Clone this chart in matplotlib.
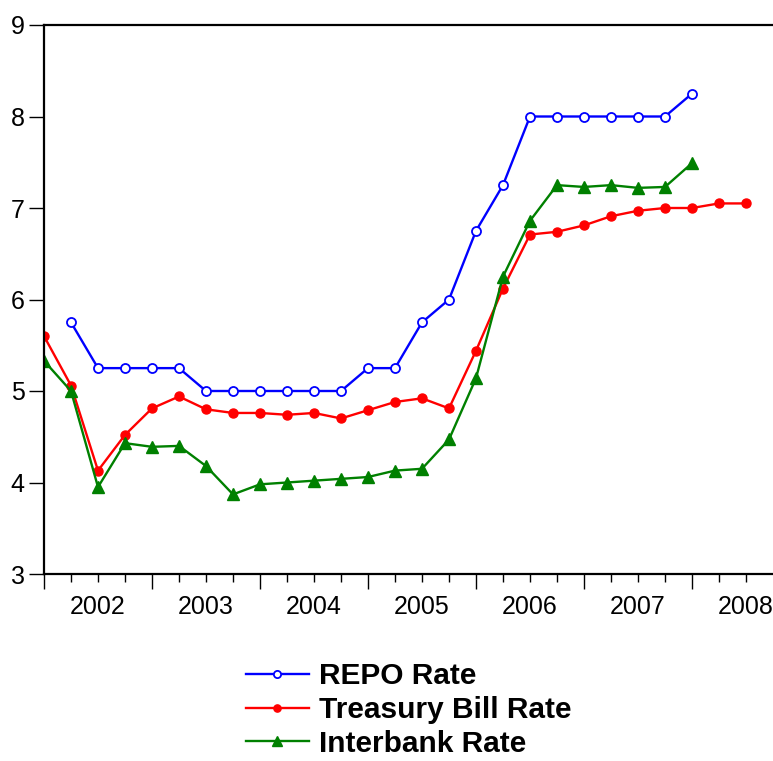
import numpy as np
import matplotlib.pyplot as plt

# quarterly observations, 2002Q1 .. 2008Q3
quarters = np.arange(27)
years = ["2002", "2003", "2004", "2005", "2006", "2007", "2008"]

repo = [np.nan, 5.75, 5.25, 5.25, 5.25, 5.25, 5.0, 5.0, 5.0, 5.0, 5.0, 5.0,
        5.25, 5.25, 5.75, 6.0, 6.75, 7.25, 8.0, 8.0, 8.0, 8.0, 8.0, 8.0, 8.25,
        np.nan, np.nan]
tbill = [5.60, 5.06, 4.13, 4.52, 4.81, 4.94, 4.80, 4.76, 4.76, 4.74, 4.76, 4.70,
         4.79, 4.88, 4.92, 4.81, 5.44, 6.12, 6.71, 6.74, 6.81, 6.91, 6.97, 7.00,
         7.00, 7.05, 7.05]
interbank = [5.33, 5.00, 3.95, 4.43, 4.39, 4.40, 4.18, 3.87, 3.98, 4.00, 4.02, 4.04,
             4.06, 4.13, 4.15, 4.47, 5.14, 6.25, 6.86, 7.25, 7.23, 7.25, 7.22, 7.23,
             7.49, np.nan, np.nan]

plt.rcParams['font.family'] = ['Liberation Sans', 'DejaVu Sans']

fig = plt.figure(figsize=(7.73, 7.61), dpi=100)
ax = fig.add_axes([44/773, 1 - 574/761, 1 - 44/773, (574 - 25)/761])

ax.plot(quarters, repo, color='blue', lw=1.7, marker='o', ms=6.5,
        mfc='white', mec='blue', mew=1.3, label='REPO Rate')
ax.plot(quarters, tbill, color='red', lw=1.7, marker='o', ms=6.5,
        mfc='red', mec='red', label='Treasury Bill Rate')
ax.plot(quarters, interbank, color='green', lw=1.7, marker='^', ms=8.5,
        mfc='green', mec='green', label='Interbank Rate')

ax.set_xlim(0, 27)
ax.set_ylim(3, 9)
ax.set_yticks(range(3, 10))
ax.set_xticks(np.arange(0, 27, 4))
ax.set_xticklabels([])
ax.set_xticks(np.arange(0, 27, 1), minor=True)
for i, y in enumerate(years):
    ax.text(2 + 4 * i, -0.038, y, transform=ax.get_xaxis_transform(),
            ha='center', va='top', fontsize=18)

ax.tick_params(axis='y', direction='out', length=11, width=1, labelsize=18, pad=3)
ax.tick_params(axis='x', which='major', direction='out', length=11, width=1)
ax.tick_params(axis='x', which='minor', direction='out', length=6, width=1)
ax.spines['right'].set_visible(False)
for s in ['left', 'bottom', 'top']:
    ax.spines[s].set_linewidth(1.6)

leg = fig.legend(loc='upper left', bbox_to_anchor=(246/773, 1 - 662/761),
                 frameon=False, prop={'weight': 'bold', 'size': 21.5},
                 handlelength=2.1, handletextpad=0.35, labelspacing=0.2,
                 borderpad=0, borderaxespad=0, markerscale=0.8)

fig.savefig('out.png', dpi=100)
